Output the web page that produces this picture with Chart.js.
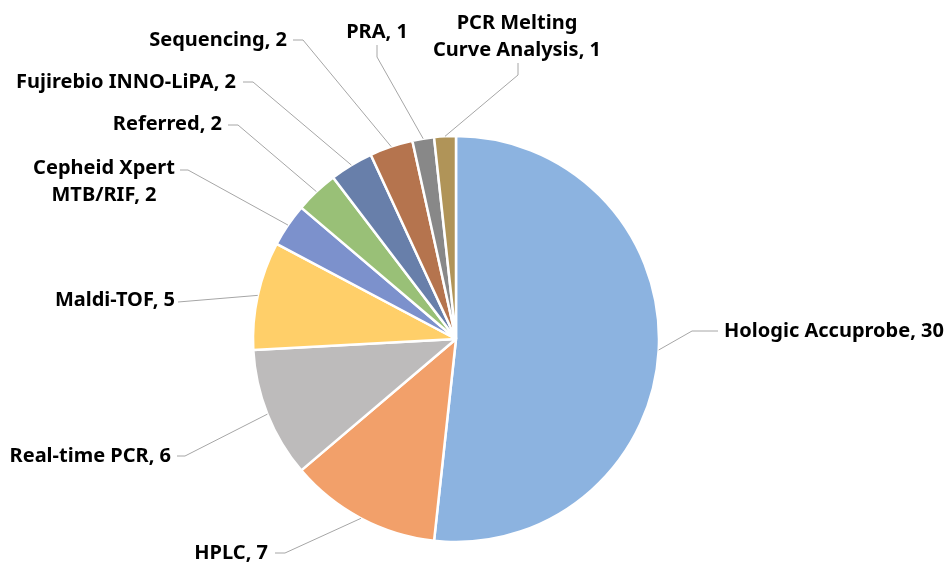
<!DOCTYPE html>
<html>
<head>
<meta charset="utf-8">
<script src="https://cdn.jsdelivr.net/npm/chart.js@4.4.1/dist/chart.umd.min.js"></script>
<style>
  html, body { margin: 0; padding: 0; background: #ffffff; }
  #wrap { width: 948px; height: 563px; position: relative; }
</style>
</head>
<body>
<div id="wrap"><canvas id="c" width="948" height="563"></canvas></div>
<script>
// ---- data ----
const categories = [
  'Hologic Accuprobe', 'HPLC', 'Real-time PCR', 'Maldi-TOF', 'Cepheid Xpert MTB/RIF',
  'Referred', 'Fujirebio INNO-LiPA', 'Sequencing', 'PRA', 'PCR Melting Curve Analysis'
];
const values = [30, 7, 6, 5, 2, 2, 2, 2, 1, 1];
const labelLines = [
  ['Hologic Accuprobe, 30'],
  ['HPLC, 7'],
  ['Real-time PCR, 6'],
  ['Maldi-TOF, 5'],
  ['Cepheid Xpert', 'MTB/RIF, 2'],
  ['Referred, 2'],
  ['Fujirebio INNO-LiPA, 2'],
  ['Sequencing, 2'],
  ['PRA, 1'],
  ['PCR Melting', 'Curve Analysis, 1']
];

// ---- styles ----
const colors = ['#8CB3E0', '#F2A06A', '#BDBBBB', '#FFCF69', '#7C91CC',
                '#99C077', '#687FAA', '#B5744E', '#888888', '#B09458'];

// label placement (text anchor, alignment, leader knee and end)
const labelPlacement = [
  { tx: 724, ty: 331, align: 'left',   knee: [692, 331], end: [718, 331] },
  { tx: 268, ty: 553, align: 'right',  knee: [285, 553], end: [275, 553] },
  { tx: 171, ty: 456, align: 'right',  knee: [185, 456], end: [177, 456] },
  { tx: 175, ty: 300, align: 'right',  knee: [178, 302], end: [178, 302] },
  { tx: 104, ty: 182, align: 'center', knee: [188, 170], end: [180, 170] },
  { tx: 222, ty: 124, align: 'right',  knee: [238, 125], end: [228, 125] },
  { tx: 236, ty: 82,  align: 'right',  knee: [253, 82],  end: [243, 82] },
  { tx: 287, ty: 40,  align: 'right',  knee: [303, 40],  end: [293, 40] },
  { tx: 377, ty: 32,  align: 'center', knee: [377, 57],  end: [377, 45] },
  { tx: 517, ty: 37,  align: 'center', knee: [518, 75],  end: [518, 63] }
];

const FONT = 'bold 20px "Noto Sans", "Open Sans", sans-serif';
const LINE_H = 27;

const labelPlugin = {
  id: 'pieLabels',
  afterDatasetsDraw(chart) {
    const ctx = chart.ctx;
    const meta = chart.getDatasetMeta(0);
    ctx.save();
    meta.data.forEach((arc, i) => {
      const p = arc.getProps(['x', 'y', 'startAngle', 'endAngle', 'outerRadius'], true);
      const mid = (p.startAngle + p.endAngle) / 2;
      const sx = p.x + Math.cos(mid) * p.outerRadius;
      const sy = p.y + Math.sin(mid) * p.outerRadius;
      const L = labelPlacement[i];
      ctx.strokeStyle = '#A6A6A6';
      ctx.lineWidth = 1;
      ctx.beginPath();
      ctx.moveTo(sx, sy);
      ctx.lineTo(L.knee[0], L.knee[1]);
      ctx.lineTo(L.end[0], L.end[1]);
      ctx.stroke();

      ctx.fillStyle = '#000000';
      ctx.font = FONT;
      ctx.textAlign = L.align;
      ctx.textBaseline = 'middle';
      const lines = labelLines[i];
      const y0 = L.ty - (lines.length - 1) * LINE_H / 2;
      lines.forEach((t, k) => ctx.fillText(t, L.tx, y0 + k * LINE_H));
    });
    ctx.restore();
  }
};

new Chart(document.getElementById('c'), {
  type: 'pie',
  data: {
    labels: categories,
    datasets: [{
      data: values,
      backgroundColor: colors,
      borderColor: '#ffffff',
      borderWidth: 2.5,
      hoverOffset: 0,
      radius: 203
    }]
  },
  options: {
    responsive: false,
    animation: false,
    events: [],
    layout: { padding: { top: 125, bottom: 10, left: 20, right: 56 } },
    plugins: {
      legend: { display: false },
      title: { display: false },
      tooltip: { enabled: false }
    }
  },
  plugins: [labelPlugin]
});
</script>
</body>
</html>
